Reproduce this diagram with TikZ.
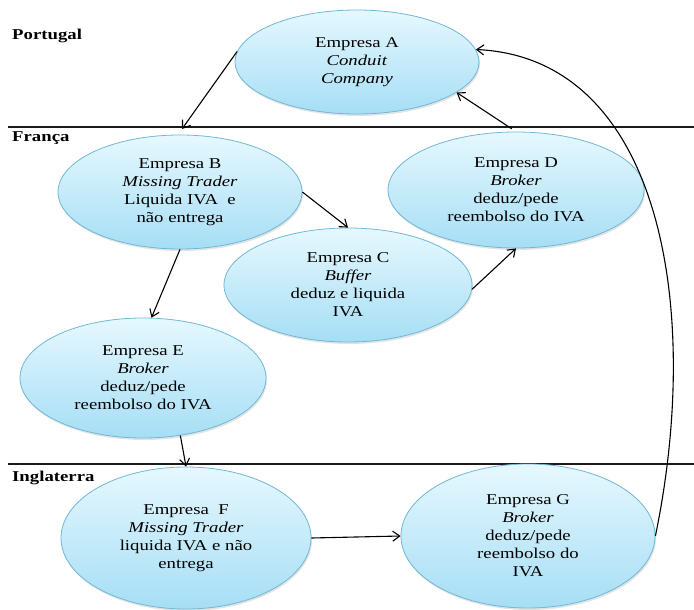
\documentclass[tikz,border=0pt]{standalone}
\usepackage{fontspec}
\setmainfont{Liberation Serif}[FakeStretch=1.25]
\usetikzlibrary{arrows.meta,shadows,shapes.geometric}
\definecolor{topblue}{HTML}{E6F8FE}
\definecolor{botblue}{HTML}{A6DEF5}
\definecolor{edgeblue}{HTML}{70B8D6}
\definecolor{sepgray}{HTML}{1A1A1A}
\begin{document}
\begin{tikzpicture}[x=1pt,y=-1pt,
  firm/.style={ellipse, draw=edgeblue, line width=0.8pt, top color=topblue, bottom color=botblue,
    inner sep=0pt, align=center, font=\fontsize{15}{18}\selectfont,
    drop shadow={opacity=0.22, shadow xshift=1pt, shadow yshift=-2pt}},
  country/.style={anchor=base west, inner sep=0pt, font=\bfseries\fontsize{15}{18}\selectfont},
  sepline/.style={draw=sepgray, line width=1.4pt},
  arr/.style={-{Straight Barb[length=7pt,width=10pt]}, line width=1.1pt, black}]
\useasboundingbox (0,0) rectangle (694,610);

% country separators
\draw[sepline] (8,127) -- (694,127);
\draw[sepline] (8,464) -- (694,464);

\node[country] (pt) at (12,40) {Portugal};
\node[country] (fr) at (12,141) {França};
\node[country] (en) at (12,481) {Inglaterra};

% firms
\node[firm, minimum width=244pt, minimum height=104pt] (A) at (357,62)
  {Empresa A\\ \textit{Conduit}\\ \textit{Company}};
\node[firm, minimum width=244pt, minimum height=114pt] (B) at (180,192)
  {Empresa B\\ \textit{Missing Trader}\\ Liquida IVA\ \ e\\ não entrega};
\node[firm, minimum width=256pt, minimum height=116pt] (D) at (516,190)
  {Empresa D\\ \textit{Broker}\\ deduz/pede\\ reembolso do IVA};
\node[firm, minimum width=248pt, minimum height=114pt] (C) at (348,285)
  {Empresa C\\ \textit{Buffer}\\ deduz e liquida\\ IVA};
\node[firm, minimum width=246pt, minimum height=120pt] (E) at (143,378)
  {Empresa E\\ \textit{Broker}\\ deduz/pede\\ reembolso do IVA};
\node[firm, minimum width=250pt, minimum height=142pt] (F) at (186,538)
  {Empresa\ \ F\\ \textit{Missing Trader}\\ liquida IVA e não\\ entrega};
\node[firm, minimum width=254pt, minimum height=144pt] (G) at (528,536)
  {Empresa G\\ \textit{Broker}\\ deduz/pede\\ reembolso do\\ IVA};

% connectors
\coordinate (Bin) at (182,129);
\draw[arr] (A.175) -- (Bin);
\draw[arr, shorten <=5pt] (D.north) -- (A.343);
\draw[arr] (B.east) -- (C.north);
\draw[arr] (C.-2) -- (D.south);
\draw[arr] (B.south) -- (E.82);
\draw[arr] (E.-57) -- (F.north);
\draw[arr] (F.east) -- (G.west);
\coordinate (c1) at (703,306);
\coordinate (c2) at (660,58);
\draw[arr] (G.east) .. controls (c1) and (c2) .. (A.6);
\end{tikzpicture}
\end{document}
